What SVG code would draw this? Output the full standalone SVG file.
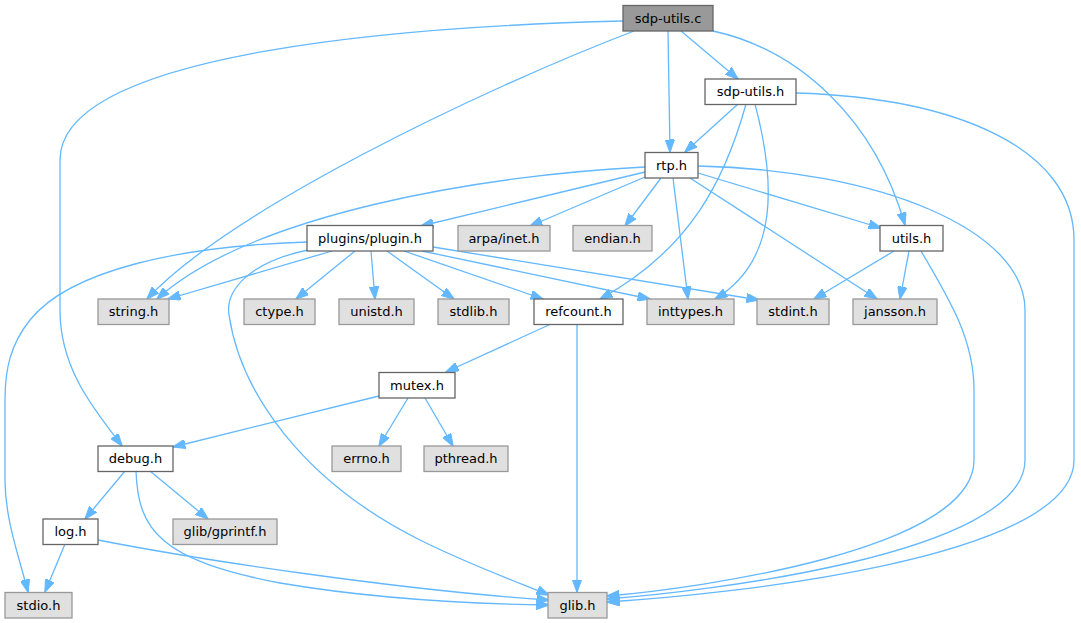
<svg xmlns="http://www.w3.org/2000/svg" width="1081" height="623" viewBox="0 0 1081 623">
<style>
.n rect{fill:#ffffff;stroke:#666666;stroke-width:1.3}
.g rect{fill:#e0e0e0;stroke:#999999;stroke-width:1.3}
.r rect{fill:#999999;stroke:#666666;stroke-width:1.3}
text{font-family:"DejaVu Sans","Liberation Sans",sans-serif;font-size:13px;text-anchor:middle;fill:#000000}
#edges path{fill:none;stroke:#63b8ff;stroke-width:1.3;marker-end:url(#ah)}
</style>
<defs>
<marker id="ah" viewBox="0 0 13 9.4" refX="12.5" refY="4.7" markerWidth="13" markerHeight="9.4" markerUnits="userSpaceOnUse" orient="auto">
<path d="M0,0 L13,4.7 L0,9.4 z" fill="#63b8ff" stroke="#63b8ff" stroke-width="1"/>
</marker>
</defs>
<rect width="1081" height="623" fill="#ffffff"/>
<g id="edges">
<path d="M623,21 C420,26 60,50 60,160 L60,310 C60,370 95,410 122,446"/>
<path d="M634,31 C480,90 230,210 147,299"/>
<path d="M668,31 L670,152"/>
<path d="M681,31 L738,79"/>
<path d="M713,31 C800,50 875,120 905,225"/>
<path d="M738,104 L685,152"/>
<path d="M746,104 C725,180 690,250 600,299"/>
<path d="M755,104 C775,180 780,260 715,299"/>
<path d="M796,93 C960,98 1074,150 1074,240 L1074,460 C1074,560 720,595 607,602"/>
<path d="M645,172 L421,226"/>
<path d="M645,167 C480,175 250,215 157,299"/>
<path d="M645,177 L530,226"/>
<path d="M661,178 L625,226"/>
<path d="M673,178 L688,299"/>
<path d="M690,178 L877,299"/>
<path d="M698,173 L881,228"/>
<path d="M698,166 C880,170 1025,230 1025,310 L1025,460 C1025,555 700,592 607,599"/>
<path d="M894,251 L814,299"/>
<path d="M909,251 L900,299"/>
<path d="M921,251 C950,300 974,340 974,390 L974,460 C974,550 700,588 607,596"/>
<path d="M307,242 C180,246 70,270 30,320 C10,345 5,370 5,400 L5,480 C5,520 20,560 28,592"/>
<path d="M308,250 C250,262 225,290 229,315 C240,390 300,480 420,540 C470,565 520,583 549,595"/>
<path d="M332,251 L168,299"/>
<path d="M355,251 L296,299"/>
<path d="M371,251 L375,299"/>
<path d="M387,251 L454,299"/>
<path d="M404,251 L543,299"/>
<path d="M422,251 L650,299"/>
<path d="M433,247 L759,300"/>
<path d="M551,324 L446,372"/>
<path d="M577,324 L577,592"/>
<path d="M379,396 L173,447"/>
<path d="M408,398 L379,446"/>
<path d="M425,398 L453,446"/>
<path d="M125,471 L85,519"/>
<path d="M150,471 L208,519"/>
<path d="M136,471 C138,530 160,560 280,583 C380,600 480,604 549,605"/>
<path d="M65,544 L45,592"/>
<path d="M98,540 C200,560 400,590 549,600"/>
</g>
<g id="n_sdputils_c" class="r"><rect x="623" y="5.5" width="90" height="25.5"/><text x="668" y="22.5">sdp-utils.c</text></g>
<g id="n_sdputils_h" class="n"><rect x="705" y="79" width="91" height="25.5"/><text x="750.5" y="96">sdp-utils.h</text></g>
<g id="n_rtp_h" class="n"><rect x="645" y="152.5" width="53" height="25.5"/><text x="671.5" y="169.5">rtp.h</text></g>
<g id="n_plugin_h" class="n"><rect x="307" y="225.5" width="126" height="25.5"/><text x="370" y="242.5">plugins/plugin.h</text></g>
<g id="n_arpa_inet_h" class="g"><rect x="458" y="225.5" width="92" height="25.5"/><text x="504" y="242.5">arpa/inet.h</text></g>
<g id="n_endian_h" class="g"><rect x="573" y="225.5" width="79" height="25.5"/><text x="612.5" y="242.5">endian.h</text></g>
<g id="n_utils_h" class="n"><rect x="880" y="225.5" width="63" height="25.5"/><text x="911.5" y="242.5">utils.h</text></g>
<g id="n_string_h" class="g"><rect x="98" y="299" width="71" height="25.5"/><text x="133.5" y="316">string.h</text></g>
<g id="n_ctype_h" class="g"><rect x="244" y="299" width="71" height="25.5"/><text x="279.5" y="316">ctype.h</text></g>
<g id="n_unistd_h" class="g"><rect x="339" y="299" width="75" height="25.5"/><text x="376.5" y="316">unistd.h</text></g>
<g id="n_stdlib_h" class="g"><rect x="438" y="299" width="71" height="25.5"/><text x="473.5" y="316">stdlib.h</text></g>
<g id="n_refcount_h" class="n"><rect x="534" y="299" width="89" height="25.5"/><text x="578.5" y="316">refcount.h</text></g>
<g id="n_inttypes_h" class="g"><rect x="647" y="299" width="87" height="25.5"/><text x="690.5" y="316">inttypes.h</text></g>
<g id="n_stdint_h" class="g"><rect x="757" y="299" width="72" height="25.5"/><text x="793" y="316">stdint.h</text></g>
<g id="n_jansson_h" class="g"><rect x="853" y="299" width="84" height="25.5"/><text x="895" y="316">jansson.h</text></g>
<g id="n_mutex_h" class="n"><rect x="379" y="372.5" width="76" height="25.5"/><text x="417" y="389.5">mutex.h</text></g>
<g id="n_errno_h" class="g"><rect x="332" y="446" width="69" height="25.5"/><text x="366.5" y="463">errno.h</text></g>
<g id="n_pthread_h" class="g"><rect x="424" y="446" width="84" height="25.5"/><text x="466" y="463">pthread.h</text></g>
<g id="n_debug_h" class="n"><rect x="98" y="446" width="75" height="25.5"/><text x="135.5" y="463">debug.h</text></g>
<g id="n_log_h" class="n"><rect x="43" y="519" width="55" height="25.5"/><text x="70.5" y="536">log.h</text></g>
<g id="n_gprintf_h" class="g"><rect x="173" y="519" width="104" height="25.5"/><text x="225" y="536">glib/gprintf.h</text></g>
<g id="n_stdio_h" class="g"><rect x="5" y="592.5" width="67" height="25.5"/><text x="38.5" y="609.5">stdio.h</text></g>
<g id="n_glib_h" class="g"><rect x="548" y="592.5" width="59" height="25.5"/><text x="577.5" y="609.5">glib.h</text></g>
</svg>
